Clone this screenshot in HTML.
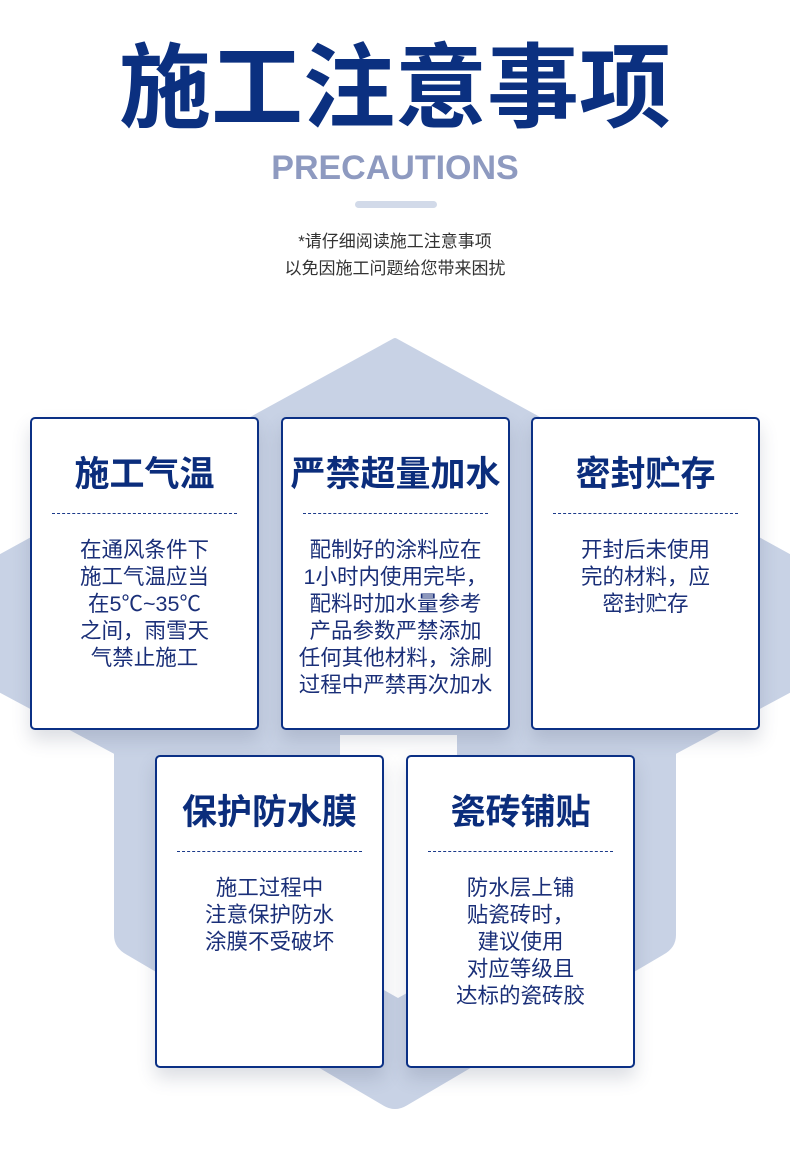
<!DOCTYPE html>
<html><head><meta charset="utf-8">
<style>
*{margin:0;padding:0;box-sizing:border-box}
body{width:790px;height:1174px;background:#fff;position:relative;overflow:hidden;font-family:"Liberation Sans","Noto Sans CJK SC",sans-serif}
.t{position:absolute;left:0;width:790px;text-align:center}
.card{position:absolute;width:229px;height:313px;background:#fff;border:2px solid #0b3085;border-radius:5px;box-shadow:0 10px 18px rgba(60,70,100,0.18)}
.card h3{position:absolute;top:34px;left:0;width:100%;text-align:center;font-size:35px;font-weight:bold;color:#0b2d7c;line-height:44px}
.card .d{position:absolute;top:94px;left:20px;right:20px;border-top:1.5px dashed #1b3a8a}
.card p{position:absolute;top:118px;left:0;width:100%;text-align:center;font-size:21.5px;line-height:27px;color:#1a2f78}
</style></head><body>
<svg width="790" height="1174" style="position:absolute;left:0;top:0">
<path d="M395,341 L800,563 L800,684 L673,752 L673,935 Q673,946 662,952 L405,1103 Q395,1109 385,1103 L128,952 Q117,946 117,935 L117,752 L-10,684 L-10,563 Z" fill="#c8d2e5" stroke="#c8d2e5" stroke-width="6" stroke-linejoin="round"/>
<path d="M340,735 L340,965 L398,998 L457,965 L457,735 Z" fill="#fff"/>
</svg>
<div class="t" style="top:34px;font-size:92px;font-weight:bold;color:#0b3080;line-height:110px">施工注意事项</div>
<div class="t" style="top:147px;font-size:34px;font-weight:bold;color:#8e9ac0;line-height:42px">PRECAUTIONS</div>
<div style="position:absolute;left:355px;top:201px;width:82px;height:7px;border-radius:4px;background:#d2dae9"></div>
<div class="t" style="top:228px;font-size:17px;color:#333;line-height:27px">*请仔细阅读施工注意事项<br>以免因施工问题给您带来困扰</div>

<div class="card" style="left:30px;top:417px"><h3>施工气温</h3><div class="d"></div><p>在通风条件下<br>施工气温应当<br>在5℃~35℃<br>之间，雨雪天<br>气禁止施工</p></div>
<div class="card" style="left:281px;top:417px"><h3>严禁超量加水</h3><div class="d"></div><p>配制好的涂料应在<br>1小时内使用完毕，<br>配料时加水量参考<br>产品参数严禁添加<br>任何其他材料，涂刷<br>过程中严禁再次加水</p></div>
<div class="card" style="left:531px;top:417px"><h3>密封贮存</h3><div class="d"></div><p>开封后未使用<br>完的材料，应<br>密封贮存</p></div>
<div class="card" style="left:155px;top:755px"><h3>保护防水膜</h3><div class="d"></div><p>施工过程中<br>注意保护防水<br>涂膜不受破坏</p></div>
<div class="card" style="left:406px;top:755px"><h3>瓷砖铺贴</h3><div class="d"></div><p>防水层上铺<br>贴瓷砖时，<br>建议使用<br>对应等级且<br>达标的瓷砖胶</p></div>
</body></html>
